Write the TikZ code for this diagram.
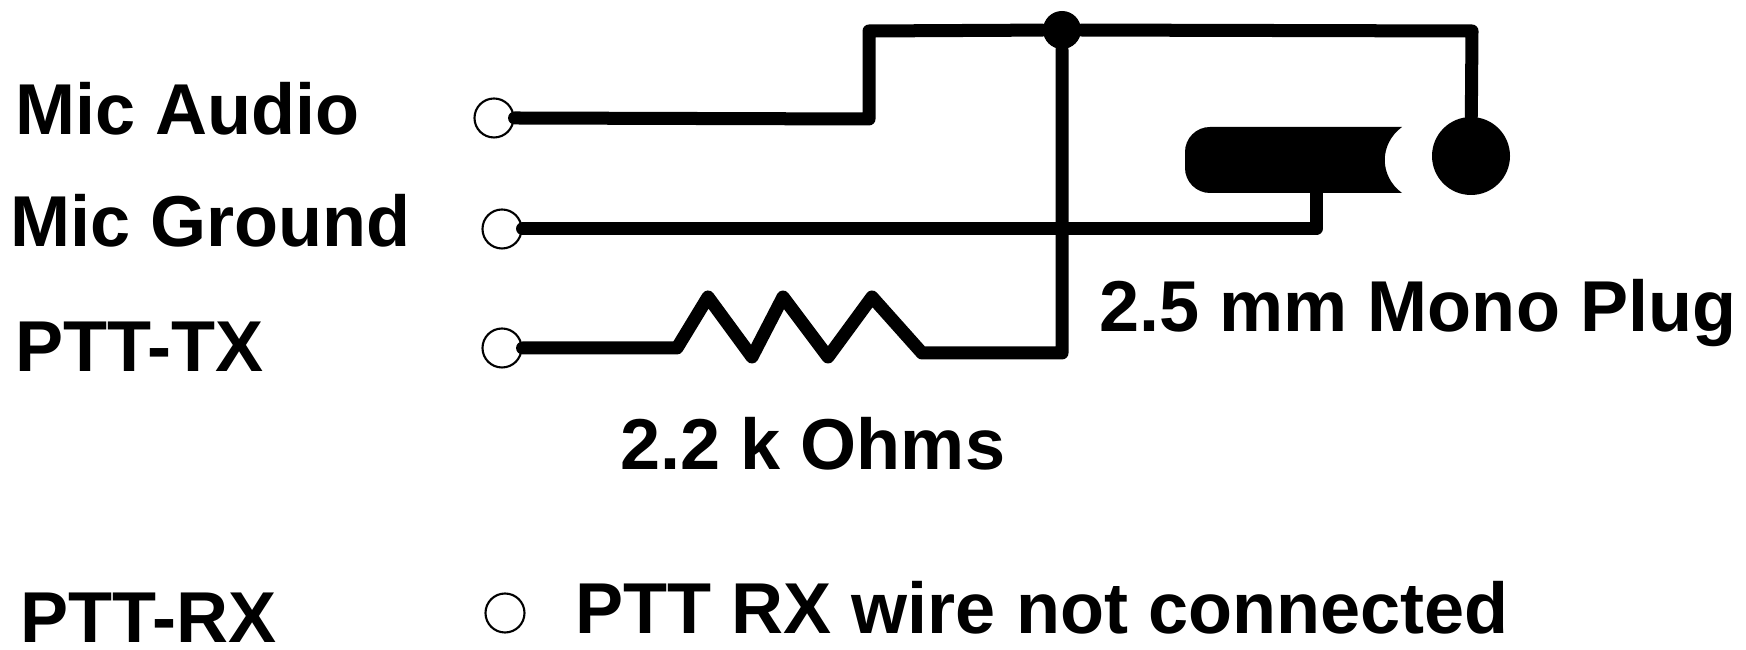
\documentclass[tikz,border=0pt]{standalone}
\usepackage{fontspec}
\setmainfont{Liberation Sans}
\begin{document}
\begin{tikzpicture}[
  wire/.style={line width=3.7pt, line cap=round, line join=round},
  term/.style={circle, draw, line width=0.6pt, minimum size=0.39cm, inner sep=0pt},
  lbl/.style={anchor=base west, inner sep=0pt, font=\fontsize{20.5}{24}\selectfont\bfseries}
]
\useasboundingbox (0,0) rectangle (17.46,6.50);
\node[lbl] (laudio) at (0.15,5.15) {Mic Audio};
\node[lbl] (lground) at (0.10,4.03) {Mic Ground};
\node[lbl] (ltx) at (0.15,2.78) {PTT-TX};
\node[lbl] (lrx) at (0.20,0.07) {PTT-RX};
\node[lbl] (lres) at (6.20,1.80) {2.2 k Ohms};
\node[lbl] (lplug) at (10.99,3.18) {2.5 mm Mono Plug};
\node[lbl] (lnc) at (5.75,0.16) {PTT RX wire not connected};
\node[term] (audio) at (4.94,5.32) {};
\node[term] (ground) at (5.02,4.21) {};
\node[term] (tx) at (5.02,3.02) {};
\node[term] (rx) at (5.05,0.37) {};
\coordinate (A) at (8.69,5.31);
\coordinate (B) at (8.69,6.19);
\coordinate (C) at (14.72,6.19);
\coordinate (D) at (13.16,4.21);
\coordinate (S) at (13.16,4.57);
\coordinate (R0) at (6.77,3.02);
\coordinate (R1) at (7.08,3.53);
\coordinate (R2) at (7.52,2.93);
\coordinate (R3) at (7.83,3.53);
\coordinate (R4) at (8.28,2.93);
\coordinate (R5) at (8.72,3.53);
\coordinate (R6) at (8.97,3.25);
\coordinate (R7) at (9.22,2.97);
\coordinate (E) at (10.62,2.97);
\node[circle, fill, minimum size=0.38cm, inner sep=0pt] (junc) at (10.62,6.20) {};
\node[circle, fill, minimum size=0.78cm, inner sep=0pt] (tip) at (14.71,4.94) {};
\fill (14.02,5.23) -- (12.10,5.23) arc[start angle=90, end angle=180, radius=0.25]
  -- (11.85,4.82) arc[start angle=180, end angle=270, radius=0.25]
  -- (14.02,4.57) .. controls (13.79,4.74) and (13.79,5.06) .. (14.02,5.23) -- cycle;
\draw[wire] (audio.east) -- (A) -- (B) -- (junc) -- (C) -- (tip);
\draw[wire] (ground.east) -- (D) -- (S);
\draw[wire] (tx.east) -- (R0) -- (R1) -- (R2) -- (R3) -- (R4) -- (R5) -- (R6) -- (R7) -- (E) -- (junc);
\end{tikzpicture}
\end{document}
